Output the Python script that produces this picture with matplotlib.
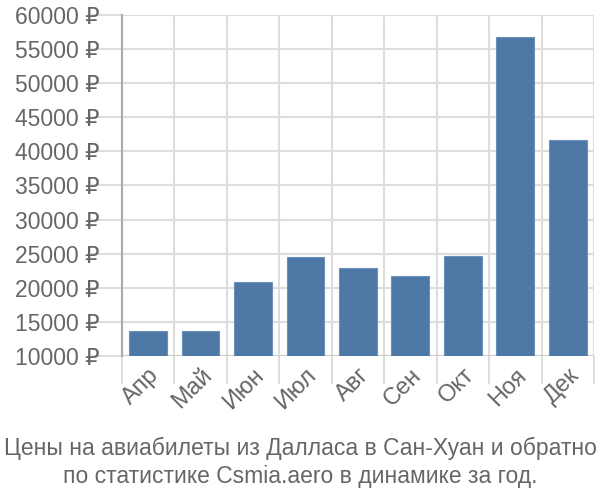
import matplotlib
matplotlib.use("Agg")
import matplotlib.pyplot as plt
import numpy as np

plt.rcParams['font.family'] = ['Liberation Sans', 'DejaVu Sans']

# data
months = ["Апр", "Май", "Июн", "Июл", "Авг", "Сен", "Окт", "Ноя", "Дек"]
prices = [13600, 13600, 20900, 24500, 22900, 21800, 24600, 56800, 41700]
yticks = [10000, 15000, 20000, 25000, 30000, 35000, 40000, 45000, 50000, 55000, 60000]
title = "Цены на авиабилеты из Далласа в Сан-Хуан и обратно\nпо статистике Csmia.aero в динамике за год."

fig = plt.figure(figsize=(6, 5), dpi=100)
ax = fig.add_axes([0.203, 0.288, 0.787, 0.682])

x = np.arange(len(months))
ax.bar(x, prices, width=0.72, color="#4e79a7", edgecolor="#6d90b8", linewidth=0.8,
       zorder=3)

ax.set_xlim(-0.5, len(months) - 0.5)
ax.set_ylim(10000, 60000)
ax.set_yticks(yticks)
ax.set_yticklabels([f"{v} ₽" for v in yticks])

# vertical grid between categories
ax.set_xticks(np.arange(len(months) + 1) - 0.5, minor=False)
ax.set_xticklabels([])
ax.set_xticks(x, minor=True)
ax.set_xticklabels(months, minor=True, rotation=45, ha="right", va="top",
                   rotation_mode="anchor", fontsize=17, color="#666666")
ax.tick_params(axis="x", which="minor", length=0, pad=6)
ax.tick_params(axis="x", which="major", length=20, color="#dddddd", width=1.5)
ax.tick_params(axis="y", length=22, color="#dddddd", width=1.5, labelsize=16.5,
               labelcolor="#666666", pad=-6)
ax.xaxis.get_major_ticks()[0].tick1line.set_color("#aaaaaa")

ax.grid(True, which="major", color="#dddddd", linewidth=1.5, zorder=0)
for s in ["top", "right", "bottom"]:
    ax.spines[s].set_visible(False)
ax.spines["left"].set_color("#aaaaaa")
ax.spines["left"].set_linewidth(1.5)
ax.axhline(10000, color="#cccccc", linewidth=1.5, zorder=2)

fig.text(0.5, 0.025, title, ha="center", va="bottom", fontsize=16.5,
         color="#666666", linespacing=1.25)

fig.savefig("out.png", dpi=100)
